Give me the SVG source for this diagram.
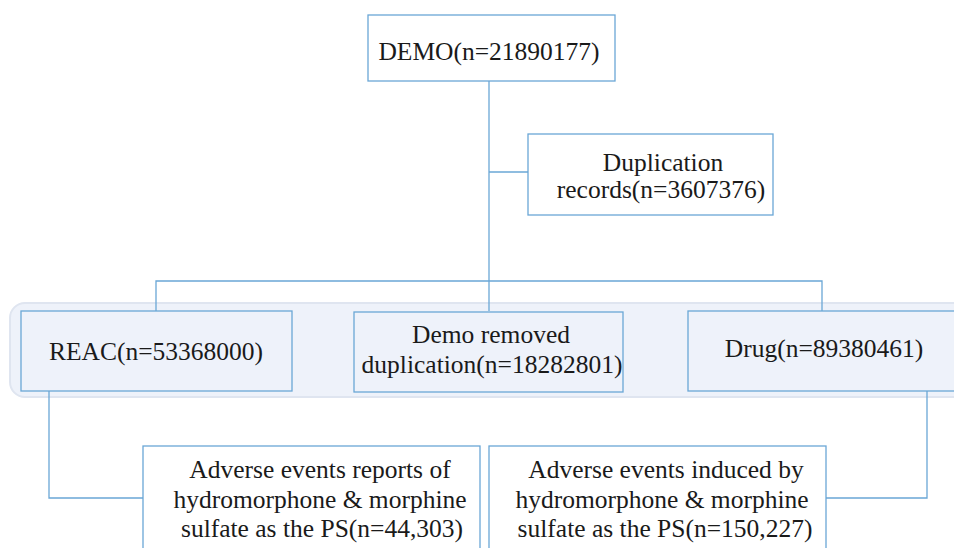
<svg xmlns="http://www.w3.org/2000/svg" width="954" height="548" viewBox="0 0 954 548">
<style>
.box{fill:#ffffff;stroke:#6aa7d6;stroke-width:1.3}
.inbox{fill:#eef2fa;stroke:#6aa7d6;stroke-width:1.3}
.t{font-family:"Liberation Serif","Times New Roman",serif;font-size:25.5px;fill:#1a1a1a;text-anchor:middle}
.c{fill:none;stroke:#6aa7d6;stroke-width:1.3}
</style>
<rect width="954" height="548" fill="#ffffff"/>
<rect id="band" x="10" y="303" width="970" height="94" rx="15" fill="#eef2fa" stroke="#dfe5f0" stroke-width="2"/>
<g id="connectors">
<path class="c" d="M489 81 V311"/>
<path class="c" d="M489 172 H528"/>
<path class="c" d="M156 311 V281 H822 V311"/>
<path class="c" d="M49 391 V498 H143"/>
<path class="c" d="M927 391 V498 H826"/>
</g>
<g id="demo">
<rect class="box" x="368" y="15" width="247" height="66"/>
<text class="t" x="489" y="60">DEMO(n=21890177)</text>
</g>
<g id="duplication">
<rect class="box" x="528" y="134" width="245" height="81"/>
<text class="t" x="663" y="171">Duplication</text>
<text class="t" x="661" y="198">records(n=3607376)</text>
</g>
<g id="reac">
<rect class="inbox" x="21" y="311" width="271" height="80"/>
<text class="t" x="156" y="360">REAC(n=53368000)</text>
</g>
<g id="demo-removed">
<rect class="inbox" x="354" y="312" width="269" height="80"/>
<text class="t" x="491" y="343">Demo removed</text>
<text class="t" x="492" y="373">duplication(n=18282801)</text>
</g>
<g id="drug">
<rect class="inbox" x="688" y="311" width="280" height="80"/>
<text class="t" x="824" y="357">Drug(n=89380461)</text>
</g>
<g id="ae-reports">
<rect class="box" x="143" y="446" width="337" height="120"/>
<text class="t" x="320" y="478">Adverse events reports of</text>
<text class="t" x="320" y="508">hydromorphone &amp; morphine</text>
<text class="t" x="322" y="537">sulfate as the PS(n=44,303)</text>
</g>
<g id="ae-induced">
<rect class="box" x="489" y="446" width="337" height="120"/>
<text class="t" x="666" y="478">Adverse events induced by</text>
<text class="t" x="662" y="508">hydromorphone &amp; morphine</text>
<text class="t" x="665" y="537">sulfate as the PS(n=150,227)</text>
</g>
</svg>
